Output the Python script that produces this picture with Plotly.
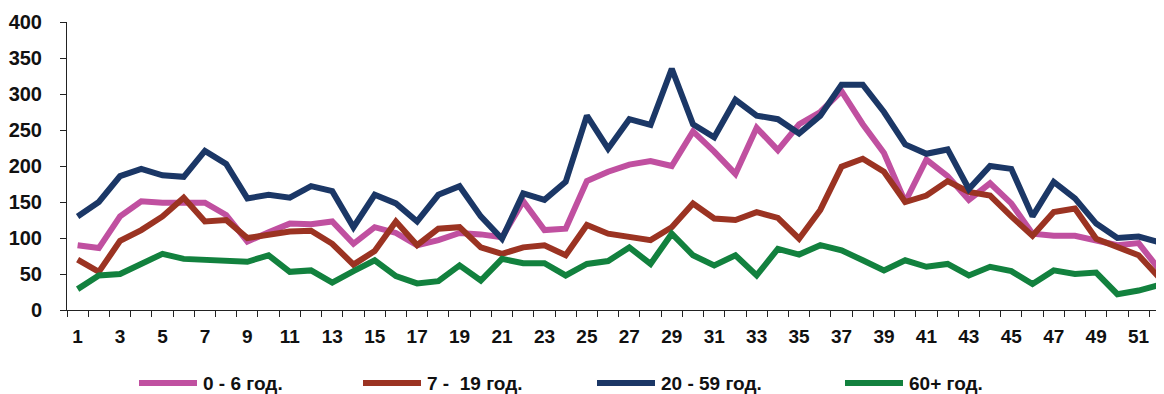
import plotly.graph_objects as go

weeks = list(range(1, 53))

age_0_6 = [90, 86, 130, 151, 149, 149, 149, 132, 95, 108, 120, 119, 123, 92, 115, 107, 90, 97, 107, 105,
           101, 151, 111, 113, 179, 192, 202, 207, 200, 248, 220, 189, 253, 222, 258, 275, 304, 258, 218, 150,
           209, 186, 153, 176, 148, 106, 103, 103, 96, 90, 93, 55]
age_7_19 = [70, 53, 96, 111, 130, 156, 123, 125, 100, 104, 109, 110, 92, 63, 82, 123, 90, 113, 115, 87,
            78, 87, 90, 76, 118, 106, 101, 97, 115, 148, 127, 125, 136, 128, 99, 139, 199, 210, 192, 150,
            159, 179, 164, 159, 130, 103, 136, 141, 99, 87, 76, 44]
age_20_59 = [130, 150, 186, 196, 187, 185, 221, 203, 155, 160, 156, 172, 165, 115, 160, 148, 123, 160, 172, 130,
             99, 162, 153, 178, 270, 224, 265, 257, 335, 258, 240, 292, 270, 265, 245, 270, 313, 313, 275, 230,
             217, 223, 168, 200, 196, 130, 178, 155, 120, 100, 102, 94]
age_60p = [29, 48, 50, 65, 78, 71, 69, 69, 67, 76, 53, 55, 38, 54, 69, 47, 37, 40, 62, 41,
           71, 65, 65, 48, 64, 68, 87, 64, 106, 76, 62, 76, 48, 85, 77, 90, 83, 69, 55, 69,
           60, 64, 48, 60, 54, 36, 55, 50, 52, 22, 27, 35]

series_names = ["0 - 6 год.", "7 -  19 год.", "20 - 59 год.", "60+ год."]
series_values = [age_0_6, age_7_19, age_20_59, age_60p]
series_colors = ["#C050A0", "#9B3322", "#1B3766", "#12813E"]

x_tick_vals = [w for w in weeks if w % 2 == 1]
x_tick_text = [str(w) for w in x_tick_vals]
y_tick_vals = [0, 50, 100, 150, 200, 250, 300, 350, 400]

# the page body has an 8px margin; lay the figure out in window pixels minus that offset
OFF = 8
WIN_W, WIN_H = 1164, 394
W, H = WIN_W - OFF, WIN_H - OFF
L, R, T, B = 67 - OFF, 0, 22 - OFF, WIN_H - 310
cat_w = 21.22
plot_w = W - L - R
plot_h = H - T - B

fig = go.Figure()
for i in range(4):
    fig.add_trace(go.Scatter(
        x=weeks, y=series_values[i], mode="lines", name=series_names[i],
        line=dict(color=series_colors[i], width=6),
        showlegend=False, hoverinfo="x+y+name",
    ))

# manual legend (long line symbols like the original), positions in window pixels
legend_line_x = [139, 363, 597, 845]
legend_y_px = 383
line_len = 58
shapes = []
annotations = []
for i in range(4):
    x0 = (legend_line_x[i] - OFF - L) / plot_w
    x1 = (legend_line_x[i] - OFF + line_len - L) / plot_w
    yy = (T + plot_h - (legend_y_px - OFF)) / plot_h
    shapes.append(dict(type="line", xref="paper", yref="paper", x0=x0, x1=x1, y0=yy, y1=yy,
                       line=dict(color=series_colors[i], width=6), layer="above"))
    annotations.append(dict(xref="paper", yref="paper", x=x1 + 4 / plot_w, y=yy, xanchor="left",
                            yanchor="middle", showarrow=False, text=series_names[i],
                            font=dict(family="Liberation Sans, Arial", size=19, color="#111111",
                                      weight="bold")))

fig.update_layout(
    width=W, height=H,
    margin=dict(l=L, r=R, t=T, b=B, pad=0),
    paper_bgcolor="white", plot_bgcolor="white",
    font=dict(family="Liberation Sans, Arial", color="#111111"),
    shapes=shapes, annotations=annotations,
    xaxis=dict(
        range=[0.5, 0.5 + plot_w / cat_w],
        tickmode="array", tickvals=x_tick_vals, ticktext=x_tick_text,
        ticks="", showgrid=False, zeroline=False,
        showline=True, linecolor="#222222", linewidth=1,
        tickfont=dict(family="Liberation Sans, Arial", size=19, color="#111111", weight="bold"),
        ticklabelstandoff=9,
        minor=dict(tickmode="array", tickvals=[w - 0.5 for w in weeks] + [52.5],
                   ticks="outside", ticklen=6, tickcolor="#222222", tickwidth=1, showgrid=False),
    ),
    yaxis=dict(
        range=[0, 400], tickmode="array", tickvals=y_tick_vals,
        ticks="outside", ticklen=6, tickcolor="#222222",
        showgrid=False, zeroline=False,
        showline=True, linecolor="#222222", linewidth=1,
        tickfont=dict(family="Liberation Sans, Arial", size=20, color="#111111", weight="bold"),
        ticklabelstandoff=14,
    ),
)

fig.write_html("out.html")
